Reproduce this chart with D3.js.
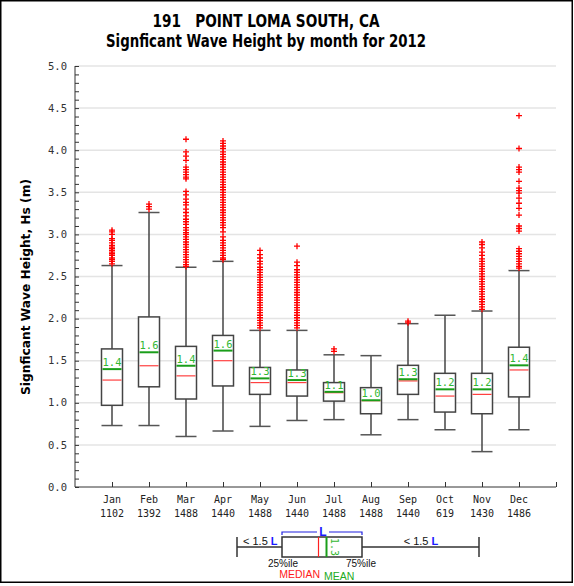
<!DOCTYPE html>
<html>
<head>
<meta charset="utf-8">
<script src="https://cdn.jsdelivr.net/npm/d3@7"></script>
<style>
  body { margin: 0; background: #fff; }
  svg { display: block; }
</style>
</head>
<body>
<svg id="chart"></svg>
<script>
const months = ["Jan", "Feb", "Mar", "Apr", "May", "Jun", "Jul", "Aug", "Sep", "Oct", "Nov", "Dec"];
const counts = [1102, 1392, 1488, 1440, 1488, 1440, 1488, 1488, 1440, 619, 1430, 1486];

// box stats (m)
const lowWhisker  = [0.73, 0.73, 0.60, 0.665, 0.72, 0.79, 0.80, 0.62, 0.80, 0.68, 0.42, 0.68];
const q1          = [0.97, 1.19, 1.045, 1.20, 1.10, 1.08, 1.02, 0.87, 1.10, 0.89, 0.87, 1.07];
const median      = [1.27, 1.44, 1.32, 1.50, 1.24, 1.24, 1.12, 1.025, 1.26, 1.08, 1.10, 1.39];
const mean        = [1.40, 1.60, 1.44, 1.62, 1.29, 1.27, 1.13, 1.03, 1.28, 1.16, 1.16, 1.445];
const q3          = [1.64, 2.02, 1.67, 1.80, 1.42, 1.39, 1.24, 1.18, 1.445, 1.35, 1.35, 1.66];
const highWhisker = [2.63, 3.26, 2.61, 2.68, 1.86, 1.86, 1.57, 1.56, 1.94, 2.04, 2.09, 2.57];

const outliers = [
  [2.65, 2.68, 2.70, 2.72, 2.75, 2.77, 2.79, 2.81, 2.83, 2.85, 2.87, 2.90, 2.93, 2.95, 3.00, 3.03, 3.05],
  [3.30, 3.33, 3.36],
  [4.13, 3.98, 3.93, 3.88, 3.80, 3.77, 3.74, 3.71, 3.68, 3.66, 3.51, 3.47, 3.42, 3.38, 3.35, 3.30,
   3.26, 3.22, 3.18, 3.15, 3.12, 3.08, 3.05, 3.02, 3.00, 2.97, 2.94, 2.91, 2.88, 2.85, 2.82, 2.79,
   2.76, 2.73, 2.70, 2.67, 2.64, 2.62],
  [4.11, 4.08, 4.05, 4.02, 3.98, 3.95, 3.92, 3.89, 3.86, 3.83, 3.80, 3.77, 3.74, 3.71, 3.68, 3.65,
   3.62, 3.59, 3.56, 3.53, 3.50, 3.47, 3.44, 3.41, 3.38, 3.35, 3.32, 3.29, 3.26, 3.23, 3.20, 3.17,
   3.14, 3.11, 3.08, 3.03, 2.97, 2.93, 2.90, 2.87, 2.84, 2.81, 2.78, 2.75, 2.72, 2.70],
  [2.81, 2.76, 2.72, 2.68, 2.65, 2.61, 2.58, 2.55, 2.52, 2.49, 2.46, 2.43, 2.40, 2.37, 2.34, 2.31,
   2.28, 2.25, 2.22, 2.19, 2.16, 2.13, 2.10, 2.07, 2.04, 2.01, 1.98, 1.95, 1.92, 1.89],
  [2.86, 2.67, 2.63, 2.58, 2.55, 2.52, 2.49, 2.46, 2.43, 2.40, 2.37, 2.34, 2.31, 2.28, 2.25, 2.22,
   2.19, 2.16, 2.13, 2.10, 2.07, 2.04, 2.01, 1.98, 1.95, 1.92, 1.89],
  [1.61, 1.64],
  [],
  [1.95, 1.97],
  [],
  [2.91, 2.88, 2.84, 2.79, 2.75, 2.71, 2.68, 2.65, 2.62, 2.59, 2.56, 2.53, 2.50, 2.47, 2.44, 2.41,
   2.38, 2.35, 2.32, 2.29, 2.26, 2.23, 2.20, 2.17, 2.14, 2.11],
  [4.41, 4.02, 3.80, 3.77, 3.74, 3.63, 3.55, 3.52, 3.49, 3.43, 3.37, 3.31, 3.23, 3.10, 3.07, 3.04,
   2.83, 2.80, 2.77, 2.74, 2.71, 2.68, 2.65, 2.62, 2.60]
];

const yTicks = [0, 0.5, 1, 1.5, 2, 2.5, 3, 3.5, 4, 4.5, 5];
const yMinor = d3.range(0, 51).map(d => d / 10);

const W = 574, H = 586;
const plotL = 75, plotR = 556, plotT = 66, plotB = 487;
const boxW = 21;

const svg = d3.select("#chart").attr("width", W).attr("height", H);

svg.append("rect")
  .attr("x", 0.75).attr("y", 0.75)
  .attr("width", 571.5).attr("height", 581.5)
  .attr("fill", "#fff").attr("stroke", "#000").attr("stroke-width", 1.5);

const x = d3.scaleLinear().domain([0, 13]).range([plotL, plotR]);
const y = d3.scaleLinear().domain([0, 5]).range([plotB, plotT]);

// titles
svg.append("text")
  .attr("x", 266).attr("y", 27)
  .attr("text-anchor", "middle")
  .attr("font-family", "'DejaVu Sans Condensed', 'DejaVu Sans', sans-serif")
  .attr("font-weight", "bold").attr("font-size", 17)
  .attr("textLength", 227).attr("lengthAdjust", "spacingAndGlyphs")
  .attr("xml:space", "preserve")
  .text("191   POINT LOMA SOUTH, CA");

svg.append("text")
  .attr("x", 266).attr("y", 47)
  .attr("text-anchor", "middle")
  .attr("font-family", "'DejaVu Sans Condensed', 'DejaVu Sans', sans-serif")
  .attr("font-weight", "bold").attr("font-size", 17)
  .attr("textLength", 320).attr("lengthAdjust", "spacingAndGlyphs")
  .text("Signficant Wave Height by month for 2012");

svg.append("text")
  .attr("transform", "translate(30,287) rotate(-90)")
  .attr("text-anchor", "middle")
  .attr("font-family", "'DejaVu Sans Condensed', 'DejaVu Sans', sans-serif")
  .attr("font-weight", "bold").attr("font-size", 13)
  .attr("textLength", 216).attr("lengthAdjust", "spacingAndGlyphs")
  .text("Signficant Wave Height, Hs (m)");

// grid
svg.append("g").selectAll("line")
  .data(yTicks.slice(1))
  .enter().append("line")
  .attr("x1", plotL).attr("x2", plotR)
  .attr("y1", d => y(d)).attr("y2", d => y(d))
  .attr("stroke", "#e4e4e4").attr("stroke-width", 1.5);

// y axis
const yAxis = svg.append("g").attr("transform", `translate(${plotL},0)`)
  .call(d3.axisRight(y).tickValues(yMinor).tickSize(4).tickFormat(""));
yAxis.select(".domain").remove();
yAxis.selectAll("line").attr("stroke", "#333");

svg.append("g").selectAll("text")
  .data(yTicks)
  .enter().append("text")
  .attr("x", 67).attr("y", d => y(d))
  .attr("dy", "0.35em")
  .attr("text-anchor", "end")
  .attr("font-family", "'DejaVu Sans Mono', monospace")
  .attr("font-size", 10.5).attr("fill", "#333")
  .text(d => d.toFixed(1));

// x axis
const xAxis = svg.append("g").attr("transform", `translate(0,${plotB})`)
  .call(d3.axisTop(x).tickValues(d3.range(1, 14)).tickSize(5).tickFormat(""));
xAxis.select(".domain").remove();
xAxis.selectAll("line").attr("stroke", "#333");

svg.append("line")
  .attr("x1", plotL).attr("x2", plotL)
  .attr("y1", plotT).attr("y2", plotB)
  .attr("stroke", "#333");
svg.append("line")
  .attr("x1", plotL).attr("x2", plotR)
  .attr("y1", plotB).attr("y2", plotB)
  .attr("stroke", "#333");

svg.append("g").selectAll("text")
  .data(months)
  .enter().append("text")
  .attr("x", (d, i) => x(i + 1)).attr("y", 503)
  .attr("text-anchor", "middle")
  .attr("font-family", "'DejaVu Sans Mono', monospace")
  .attr("font-size", 10).attr("fill", "#222")
  .text(d => d);

svg.append("g").selectAll("text")
  .data(counts)
  .enter().append("text")
  .attr("x", (d, i) => x(i + 1)).attr("y", 517)
  .attr("text-anchor", "middle")
  .attr("font-family", "'DejaVu Sans Mono', monospace")
  .attr("font-size", 10).attr("fill", "#222")
  .text(d => d);

// boxes
const idx = d3.range(months.length);
const boxes = svg.append("g").selectAll("g")
  .data(idx)
  .enter().append("g");

boxes.append("line")
  .attr("x1", i => x(i + 1)).attr("x2", i => x(i + 1))
  .attr("y1", i => y(highWhisker[i])).attr("y2", i => y(lowWhisker[i]))
  .attr("stroke", "#444").attr("stroke-width", 1.5);

boxes.append("line")
  .attr("x1", i => x(i + 1) - boxW / 2).attr("x2", i => x(i + 1) + boxW / 2)
  .attr("y1", i => y(highWhisker[i])).attr("y2", i => y(highWhisker[i]))
  .attr("stroke", "#555").attr("stroke-width", 1.5);

boxes.append("line")
  .attr("x1", i => x(i + 1) - boxW / 2).attr("x2", i => x(i + 1) + boxW / 2)
  .attr("y1", i => y(lowWhisker[i])).attr("y2", i => y(lowWhisker[i]))
  .attr("stroke", "#555").attr("stroke-width", 1.5);

boxes.append("rect")
  .attr("x", i => x(i + 1) - boxW / 2)
  .attr("y", i => y(q3[i]))
  .attr("width", boxW)
  .attr("height", i => y(q1[i]) - y(q3[i]))
  .attr("fill", "#fff").attr("stroke", "#444").attr("stroke-width", 1.5);

boxes.append("line")
  .attr("x1", i => x(i + 1) - boxW / 2 + 1).attr("x2", i => x(i + 1) + boxW / 2 - 1)
  .attr("y1", i => y(median[i])).attr("y2", i => y(median[i]))
  .attr("stroke", "#ff4040").attr("stroke-width", 1.2);

boxes.append("line")
  .attr("x1", i => x(i + 1) - boxW / 2 + 1).attr("x2", i => x(i + 1) + boxW / 2 - 1)
  .attr("y1", i => y(mean[i])).attr("y2", i => y(mean[i]))
  .attr("stroke", "#1a9e1a").attr("stroke-width", 2);

boxes.append("text")
  .attr("x", i => x(i + 1)).attr("y", i => y(mean[i]) - 3)
  .attr("text-anchor", "middle")
  .attr("font-family", "'DejaVu Sans Mono', monospace")
  .attr("font-size", 10.5).attr("fill", "#33b833")
  .text(i => mean[i].toFixed(1));

// outliers as red plus marks
const pts = [];
outliers.forEach((arr, i) => arr.forEach(v => pts.push({ m: i, v: v })));
svg.append("g").selectAll("path")
  .data(pts)
  .enter().append("path")
  .attr("d", d => {
    const cx = x(d.m + 1), cy = y(d.v);
    return `M${cx - 3},${cy}H${cx + 3}M${cx},${cy - 3}V${cy + 3}`;
  })
  .attr("stroke", "#ff0000").attr("stroke-width", 1.3);

// legend
const lg = svg.append("g").attr("stroke", "#333");
const lx0 = 237, lb0 = 282, lb1 = 362, lx1 = 479, ly0 = 537, ly1 = 557, lym = 547;
lg.append("line").attr("x1", lx0).attr("x2", lx0).attr("y1", ly0).attr("y2", ly1).attr("stroke-width", 1.5);
lg.append("line").attr("x1", lx1).attr("x2", lx1).attr("y1", ly0).attr("y2", ly1).attr("stroke-width", 1.5);
lg.append("line").attr("x1", lx0).attr("x2", lb0).attr("y1", lym).attr("y2", lym).attr("stroke-width", 1.5);
lg.append("line").attr("x1", lb1).attr("x2", lx1).attr("y1", lym).attr("y2", lym).attr("stroke-width", 1.5);
lg.append("rect").attr("x", lb0).attr("y", ly0).attr("width", lb1 - lb0).attr("height", ly1 - ly0)
  .attr("fill", "#fff").attr("stroke-width", 1.5);
lg.append("line").attr("x1", 318.5).attr("x2", 318.5).attr("y1", ly0).attr("y2", ly1)
  .attr("stroke", "#ff2020").attr("stroke-width", 1.2);
lg.append("line").attr("x1", 326.5).attr("x2", 326.5).attr("y1", ly0).attr("y2", ly1)
  .attr("stroke", "#1a9e1a").attr("stroke-width", 2);

// bracket for L
lg.append("path")
  .attr("d", `M${lb0},535V532H317M329,532H${lb1}V535`)
  .attr("fill", "none").attr("stroke", "#2020e0").attr("stroke-width", 1.2);

const legendFont = "'Liberation Sans', Arial, sans-serif";
svg.append("text")
  .attr("x", 323).attr("y", 536)
  .attr("text-anchor", "middle")
  .attr("font-family", legendFont).attr("font-weight", "bold")
  .attr("font-size", 12).attr("fill", "#1a1aff")
  .text("L");

function lessL(tx, anchor) {
  const t = svg.append("text")
    .attr("x", tx).attr("y", 545)
    .attr("text-anchor", anchor)
    .attr("font-family", legendFont).attr("font-size", 11).attr("fill", "#111");
  t.append("tspan").text("< 1.5 ");
  t.append("tspan").attr("font-weight", "bold").attr("fill", "#1a1aff").text("L");
}
lessL(243, "start");
lessL(421, "middle");

svg.append("text")
  .attr("transform", "translate(331,538) rotate(90)")
  .attr("font-family", "'DejaVu Sans Mono', monospace")
  .attr("font-size", 10).attr("fill", "#33b833")
  .text(mean[4].toFixed(1));

svg.append("text")
  .attr("x", 283).attr("y", 567).attr("text-anchor", "middle")
  .attr("font-family", legendFont).attr("font-size", 10).attr("fill", "#111")
  .text("25%ile");
svg.append("text")
  .attr("x", 361).attr("y", 567).attr("text-anchor", "middle")
  .attr("font-family", legendFont).attr("font-size", 10).attr("fill", "#111")
  .text("75%ile");
svg.append("text")
  .attr("x", 320).attr("y", 578).attr("text-anchor", "end")
  .attr("font-family", legendFont).attr("font-size", 10.5).attr("fill", "#ff1a1a")
  .text("MEDIAN");
svg.append("text")
  .attr("x", 324).attr("y", 580).attr("text-anchor", "start")
  .attr("font-family", legendFont).attr("font-size", 10.5).attr("fill", "#22aa22")
  .text("MEAN");
</script>
</body>
</html>
